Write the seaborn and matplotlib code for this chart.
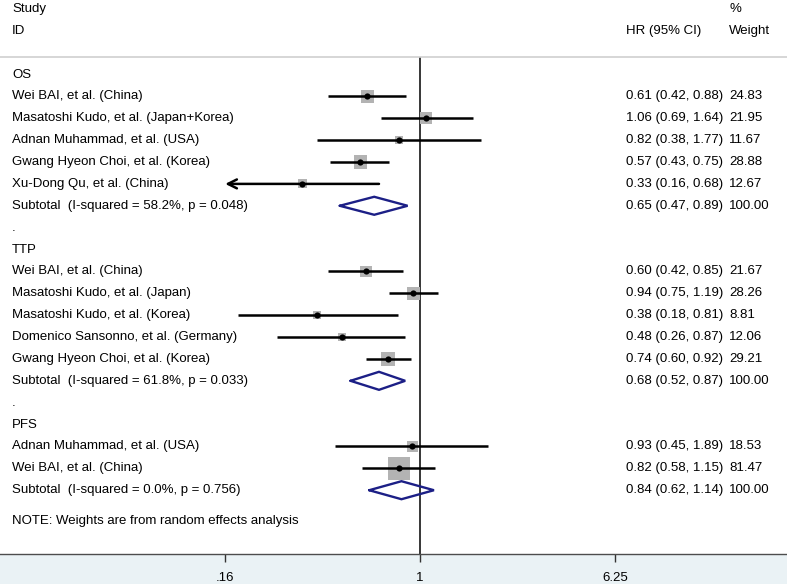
import numpy as np
import pandas as pd
import matplotlib
matplotlib.use("Agg")
import matplotlib.pyplot as plt
import seaborn as sns

sns.set_theme(style="white")
plt.rcParams['font.family'] = ['Liberation Sans', 'DejaVu Sans']
plt.rcParams['text.color'] = 'black'
plt.rcParams['xtick.color'] = '#333333'
plt.rcParams['xtick.labelcolor'] = 'black'

# ---------------- data ----------------
labels = [
    "OS",
    "Wei BAI, et al. (China)",
    "Masatoshi Kudo, et al. (Japan+Korea)",
    "Adnan Muhammad, et al. (USA)",
    "Gwang Hyeon Choi, et al. (Korea)",
    "Xu-Dong Qu, et al. (China)",
    "Subtotal  (I-squared = 58.2%, p = 0.048)",
    ".",
    "TTP",
    "Wei BAI, et al. (China)",
    "Masatoshi Kudo, et al. (Japan)",
    "Masatoshi Kudo, et al. (Korea)",
    "Domenico Sansonno, et al. (Germany)",
    "Gwang Hyeon Choi, et al. (Korea)",
    "Subtotal  (I-squared = 61.8%, p = 0.033)",
    ".",
    "PFS",
    "Adnan Muhammad, et al. (USA)",
    "Wei BAI, et al. (China)",
    "Subtotal  (I-squared = 0.0%, p = 0.756)",
]
kinds = ["group", "study", "study", "study", "study", "study", "subtotal", "dot",
         "group", "study", "study", "study", "study", "study", "subtotal", "dot",
         "group", "study", "study", "subtotal"]
hr = [np.nan, 0.61, 1.06, 0.82, 0.57, 0.33, 0.65, np.nan,
      np.nan, 0.60, 0.94, 0.38, 0.48, 0.74, 0.68, np.nan,
      np.nan, 0.93, 0.82, 0.84]
ci_low = [np.nan, 0.42, 0.69, 0.38, 0.43, 0.16, 0.47, np.nan,
          np.nan, 0.42, 0.75, 0.18, 0.26, 0.60, 0.52, np.nan,
          np.nan, 0.45, 0.58, 0.62]
ci_high = [np.nan, 0.88, 1.64, 1.77, 0.75, 0.68, 0.89, np.nan,
           np.nan, 0.85, 1.19, 0.81, 0.87, 0.92, 0.87, np.nan,
           np.nan, 1.89, 1.15, 1.14]
weights = [np.nan, 24.83, 21.95, 11.67, 28.88, 12.67, 100.00, np.nan,
           np.nan, 21.67, 28.26, 8.81, 12.06, 29.21, 100.00, np.nan,
           np.nan, 18.53, 81.47, 100.00]
tick_values = [0.16, 1, 6.25]
tick_labels = [".16", "1", "6.25"]
note_text = "NOTE: Weights are from random effects analysis"

df = pd.DataFrame({"label": labels, "kind": kinds, "hr": hr, "lo": ci_low,
                   "hi": ci_high, "w": weights})
df["row"] = np.arange(len(df))

# ---------------- figure ----------------
W, H = 787, 584
fig = plt.figure(figsize=(W / 100, H / 100), dpi=100, facecolor="#eaf2f5")
band = 30
ax = fig.add_axes([0, band / H, 1, 1 - band / H])
ax.set_facecolor("white")

# x scale: log, null line at pixel 420, 106.3 px per ln unit
scale = 106.3
x0 = 420
ax.set_xscale("log")
ax.set_xlim(np.exp((0 - x0) / scale), np.exp((W - x0) / scale))
# y: row index, row 0 at pixel 74, 21.88 px per row
r0, dr = 74.5, 21.88
ax_h = H - band
ax.set_ylim((ax_h - r0) / dr, -r0 / dr)

xmin_clip = tick_values[0]

studies = df[df.kind == "study"]
subs = df[df.kind == "subtotal"]

# CI lines (with arrow where clipped)
for _, r in studies.iterrows():
    if r.lo <= xmin_clip:
        ax.annotate("", xy=(xmin_clip, r.row), xytext=(r.hi, r.row),
                    arrowprops=dict(arrowstyle="->", lw=1.8, color="black",
                                    shrinkA=0, shrinkB=0, mutation_scale=16),
                    zorder=3)
    else:
        ax.hlines(r.row, r.lo, r.hi, color="black", lw=1.8, zorder=3)

# weight boxes
wmax = studies.w.max()
side_pt = 22.5 / (100 / 72)
sns.scatterplot(data=studies, x="hr", y="row", size="w", sizes=(0, side_pt ** 2),
                size_norm=(0, wmax), marker="s", color="#b3b3b3", linewidth=0,
                legend=False, ax=ax, zorder=2)
# point estimates
sns.scatterplot(data=studies, x="hr", y="row", marker="o", s=20, color="black",
                linewidth=0, legend=False, ax=ax, zorder=4)

# subtotal diamonds
dh = 9 / dr
for _, r in subs.iterrows():
    xs = [r.lo, r.hr, r.hi, r.hr, r.lo]
    ys = [r.row, r.row - dh, r.row, r.row + dh, r.row]
    ax.plot(xs, ys, color="#1c1f86", lw=1.7, zorder=4, solid_joinstyle="miter")

# null line and header rule
header_y = (57 - r0) / dr
ax.vlines(1, header_y, (ax_h - r0) / dr, color="black", lw=1.1, zorder=1)
ax.axhline(header_y, color="#cfcfcf", lw=1.2, zorder=1)

# text columns
tr = ax.get_yaxis_transform()
fs = 9.5
xl, xhr, xw = 12 / W, 626 / W, 729 / W
ax.text(xl, -3, "Study", transform=tr, va="center", ha="left", fontsize=fs)
ax.text(xl, -2, "ID", transform=tr, va="center", ha="left", fontsize=fs)
ax.text(xhr, -2, "HR (95% CI)", transform=tr, va="center", ha="left", fontsize=fs)
ax.text(xw, -3, "%", transform=tr, va="center", ha="left", fontsize=fs)
ax.text(xw, -2, "Weight", transform=tr, va="center", ha="left", fontsize=fs)
for _, r in df.iterrows():
    ax.text(xl, r.row, r.label, transform=tr, va="center", ha="left", fontsize=fs)
    if not np.isnan(r.hr):
        ax.text(xhr, r.row, f"{r.hr:.2f} ({r.lo:.2f}, {r.hi:.2f})", transform=tr,
                va="center", ha="left", fontsize=fs)
        ax.text(xw, r.row, f"{r.w:.2f}", transform=tr, va="center", ha="left",
                fontsize=fs)
ax.text(xl, (521 - r0) / dr, note_text, transform=tr, va="center", ha="left",
        fontsize=fs)

# axis styling
for s in ["top", "left", "right"]:
    ax.spines[s].set_visible(False)
ax.spines["bottom"].set_color("#4d4d4d")
ax.spines["bottom"].set_linewidth(1.0)
ax.set_xticks(tick_values)
ax.set_xticklabels(tick_labels)
ax.minorticks_off()
ax.tick_params(axis="x", which="major", direction="out", length=6, width=1.0,
               labelsize=9.5, pad=7, bottom=True)
ax.set_yticks([])
ax.set_xlabel("")
ax.set_ylabel("")

fig.savefig("out.png", dpi=100, facecolor=fig.get_facecolor())
